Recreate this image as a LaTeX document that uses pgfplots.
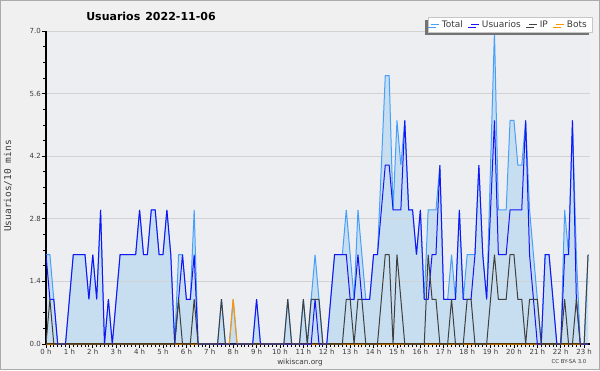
\documentclass[border=0pt]{standalone}
\usepackage{fontspec}
\setmainfont{DejaVu Sans}
\newfontfamily\monofont{DejaVu Sans Mono}
\usepackage{pgfplots}
\usepackage{pgfplotstable}
\pgfplotsset{compat=1.18}
\usetikzlibrary{shadows}
\definecolor{bgc}{RGB}{240,240,240}
\definecolor{plotbg}{RGB}{237,238,241}
\definecolor{framec}{RGB}{170,170,170}
\definecolor{fillc}{RGB}{199,221,240}
\definecolor{totc}{RGB}{70,160,250}
\definecolor{usc}{RGB}{20,20,245}
\definecolor{ipc}{RGB}{64,64,64}
\definecolor{botc}{RGB}{255,150,0}
\definecolor{txtc}{RGB}{60,60,60}
\pgfplotsset{layers/mylayers/.define layer set={bgl,axis background,axis grid,pre main,main,axis ticks,axis lines,axis tick labels,axis descriptions,axis foreground}{}}

\pgfplotstableread{
i T U I B
0 2 2 0 0
1 2 1 1 0
2 1 1 0 0
3 0 0 0 0
4 0 0 0 0
5 0 0 0 0
6 1 1 0 0
7 2 2 0 0
8 2 2 0 0
9 2 2 0 0
10 2 2 0 0
11 1 1 0 0
12 2 2 0 0
13 1 1 0 0
14 3 3 0 0
15 0 0 0 0
16 1 1 0 0
17 0 0 0 0
18 1 1 0 0
19 2 2 0 0
20 2 2 0 0
21 2 2 0 0
22 2 2 0 0
23 2 2 0 0
24 3 3 0 0
25 2 2 0 0
26 2 2 0 0
27 3 3 0 0
28 3 3 0 0
29 2 2 0 0
30 2 2 0 0
31 3 3 0 0
32 2 2 0 0
33 0 0 0 0
34 2 1 1 0
35 2 2 0 0
36 1 1 0 0
37 1 1 0 0
38 3 2 1 0
39 0 0 0 0
40 0 0 0 0
41 0 0 0 0
42 0 0 0 0
43 0 0 0 0
44 0 0 0 0
45 1 0 1 0
46 0 0 0 0
47 0 0 0 0
48 1 0 0 1
49 0 0 0 0
50 0 0 0 0
51 0 0 0 0
52 0 0 0 0
53 0 0 0 0
54 1 1 0 0
55 0 0 0 0
56 0 0 0 0
57 0 0 0 0
58 0 0 0 0
59 0 0 0 0
60 0 0 0 0
61 0 0 0 0
62 1 0 1 0
63 0 0 0 0
64 0 0 0 0
65 0 0 0 0
66 1 0 1 0
67 0 0 0 0
68 1 0 1 0
69 2 1 1 0
70 1 0 1 0
71 0 0 0 0
72 0 0 0 0
73 1 1 0 0
74 2 2 0 0
75 2 2 0 0
76 2 2 0 0
77 3 2 1 0
78 2 1 1 0
79 1 1 0 0
80 3 2 1 0
81 2 1 1 0
82 1 1 0 0
83 1 1 0 0
84 2 2 0 0
85 2 2 0 0
86 4 3 1 0
87 6 4 2 0
88 6 4 2 0
89 3 3 0 0
90 5 3 2 0
91 4 3 1 0
92 5 5 0 0
93 3 3 0 0
94 3 3 0 0
95 2 2 0 0
96 3 3 0 0
97 1 1 0 0
98 3 1 2 0
99 3 2 1 0
100 3 2 1 0
101 4 4 0 0
102 1 1 0 0
103 1 1 0 0
104 2 1 1 0
105 1 1 0 0
106 3 3 0 0
107 1 1 0 0
108 2 1 1 0
109 2 1 1 0
110 2 2 0 0
111 4 4 0 0
112 2 2 0 0
113 1 1 0 0
114 4 3 1 0
115 7 5 2 0
116 3 2 1 0
117 3 2 1 0
118 3 2 1 0
119 5 3 2 0
120 5 3 2 0
121 4 3 1 0
122 4 3 1 0
123 5 5 0 0
124 3 2 1 0
125 2 1 1 0
126 1 0 1 0
127 0 0 0 0
128 2 2 0 0
129 2 2 0 0
130 1 1 0 0
131 0 0 0 0
132 0 0 0 0
133 3 2 1 0
134 2 2 0 0
135 5 5 0 0
136 2 1 1 0
137 0 0 0 0
138 0 0 0 0
139 2 0 2 0
}\data

\begin{document}
\begin{tikzpicture}[x=1pt,y=1pt]
\begin{axis}[
  set layers=mylayers,
  at={(46pt,26pt)}, anchor=south west,
  scale only axis, width=544pt, height=313pt,
  xmin=0, xmax=139.5, ymin=0, ymax=7,
  clip=true,
  axis lines=left,
  axis line style={-, black, line width=1.6pt},
  tick align=outside,
  major tick length=4pt, minor tick length=3pt,
  tick style={black, line width=0.8pt},
  xtick={0,6,...,138},
  xticklabels={0 h,1 h,2 h,3 h,4 h,5 h,6 h,7 h,8 h,9 h,10 h,11 h,12 h,13 h,14 h,15 h,16 h,17 h,18 h,19 h,20 h,21 h,22 h,23 h},
  minor x tick num=5,
  ytick={0,1.4,2.8,4.2,5.6,7},
  minor y tick num=3,
  yticklabel style={/pgf/number format/.cd, fixed, fixed zerofill, precision=1, assume math mode=true},
  ticklabel style={font=\fontsize{7}{8}\selectfont, text=txtc, inner sep=1pt},
  ymajorgrids,
  grid style={gray!35, line width=0.8pt},
  legend columns=4,
  legend cell align=left,
  legend image code/.code={\draw[#1, line width=1pt] (0pt,0pt) -- (8pt,0pt);},
  legend style={at={(rel axis cs:1,1)}, anchor=south east, xshift=2pt, yshift=-1pt,
    draw=gray!45, fill=white, font=\fontsize{9}{10}\selectfont, text=txtc,
    inner xsep=3pt, inner ysep=1pt,
    drop shadow={shadow xshift=-3pt, shadow yshift=-3pt, fill=gray!90!black, opacity=1},
    /tikz/every even column/.append style={column sep=6pt}},
]
\addplot[on layer=axis background, draw=none, fill=fillc, forget plot] table[x=i,y=T]{\data} \closedcycle;
\addplot[draw=totc, line width=1pt, forget plot] table[x=i,y=T]{\data};
\addplot[draw=botc, line width=1pt, forget plot] table[x=i,y=B]{\data};
\addplot[draw=usc, line width=1pt, forget plot] table[x=i,y=U]{\data};
\addplot[draw=ipc, line width=1pt, forget plot] table[x=i,y=I]{\data};
\addlegendimage{draw=totc, line width=1pt}
\addlegendentry{Total}
\addlegendimage{draw=usc, line width=1pt}
\addlegendentry{Usuarios}
\addlegendimage{draw=ipc, line width=1pt}
\addlegendentry{IP}
\addlegendimage{draw=botc, line width=1pt}
\addlegendentry{Bots}
\end{axis}
\begin{pgfonlayer}{bgl}
\fill[bgc] (0,0) rectangle (600,370);
\draw[framec, line width=1pt] (0.5,0.5) rectangle (599.5,369.5);
\fill[plotbg] (46,26) rectangle (590,339);
\end{pgfonlayer}
\node[font=\bfseries\fontsize{11}{13}\selectfont] at (151,354) {Usuarios\hspace{5pt}2022-11-06};
\node[font=\fontsize{7.3}{8}\selectfont, text=txtc] at (300,8) {wikiscan.org};
\node[font=\fontsize{5.4}{6}\selectfont, text=txtc] at (569,8) {CC BY-SA 3.0};
\node[font=\monofont\fontsize{9.5}{10}\selectfont, text=txtc, rotate=90] at (8,184) {Usuarios/10 mins};
\end{tikzpicture}
\end{document}
